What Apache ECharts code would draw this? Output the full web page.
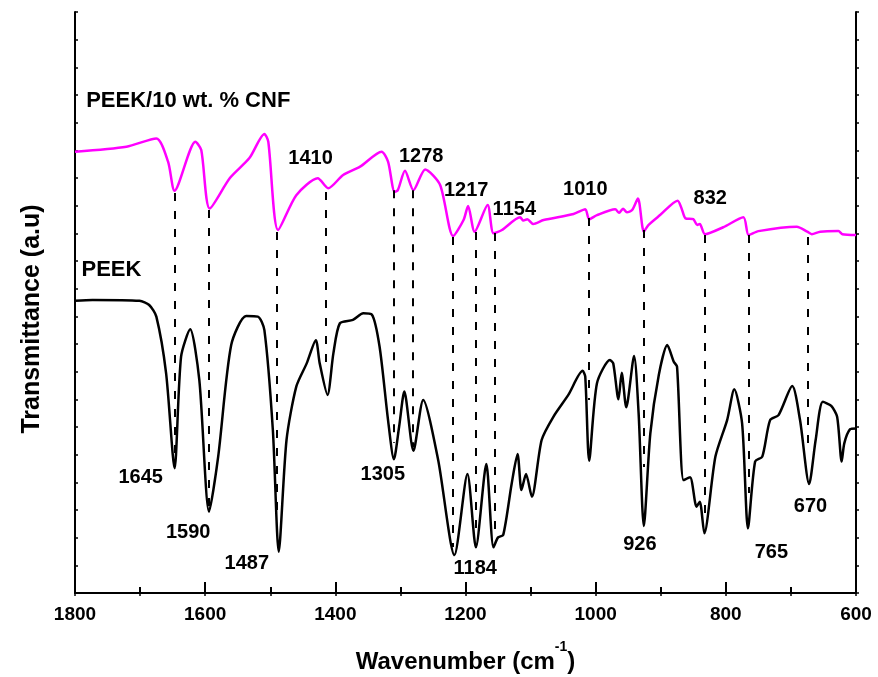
<!DOCTYPE html>
<html>
<head>
<meta charset="utf-8">
<title>FTIR PEEK</title>
<script src="https://cdn.jsdelivr.net/npm/echarts@6/dist/echarts.min.js"></script>
<style>
  html, body { margin: 0; padding: 0; background: #fff; }
  #chart { width: 878px; height: 677px; }
</style>
</head>
<body>
<div id="chart"></div>
<script>
// wavenumber (cm-1) / transmittance (a.u., offset)
var cnfWave = [1800, 1721, 1675, 1657, 1647, 1615, 1606, 1593, 1562, 1532, 1509, 1503, 1488, 1460, 1427, 1411,
    1388, 1362, 1329, 1319, 1309, 1304, 1293, 1280, 1262, 1239, 1219, 1203, 1196, 1186, 1166, 1157, 1144,
    1116, 1111, 1105, 1096, 1080, 1034, 1016, 1010, 998, 970, 964, 958, 952, 944, 935, 926, 919, 901, 874,
    868, 862, 850, 844, 840, 832, 804, 773, 765, 750, 691, 675, 668, 655, 627, 621, 600];
var cnfT = [15.95, 16.13, 16.43, 15.59, 14.54, 16.31, 16.01, 13.90, 15.00, 15.72, 16.59, 16.31, 13.12, 14.38, 14.99, 14.63,
    15.11, 15.41, 15.95, 15.59, 14.50, 14.56, 15.26, 14.56, 15.31, 14.75, 12.90, 13.48, 13.99, 13.06, 14.02, 13.00, 13.12,
    13.58, 13.46, 13.51, 13.34, 13.48, 13.70, 13.87, 13.51, 13.66, 13.87, 13.74, 13.89, 13.76, 13.84, 14.26, 13.06, 13.30, 13.66, 14.18,
    13.90, 13.54, 13.51, 13.30, 13.34, 12.97, 13.22, 13.58, 12.94, 13.08, 13.24, 13.06, 12.97, 13.06, 13.08, 12.97, 12.94];

var peekWave = [1800, 1773, 1701, 1686, 1675, 1660, 1647, 1637, 1623, 1609, 1594, 1580, 1560, 1537, 1519, 1509,
    1496, 1487, 1475, 1460, 1444, 1430, 1424, 1412, 1403, 1393, 1373, 1357, 1344, 1332, 1319, 1310, 1302, 1294,
    1280, 1265, 1242, 1217, 1197, 1184, 1168, 1157, 1150, 1142, 1129, 1120, 1114, 1107, 1098, 1083, 1065, 1042,
    1020, 1016, 1010, 998, 978, 973, 965, 960, 953, 941, 934, 926, 916, 903, 890, 880, 875, 865, 855, 845, 840,
    833, 816, 798, 787, 775, 766, 755, 744, 732, 719, 698, 686, 672, 662, 651, 638, 629, 622, 618, 609, 600];
var peekT = [10.56, 10.59, 10.56, 10.41, 9.99, 7.94, 4.51, 8.54, 9.53, 7.70, 2.94, 4.93, 8.96, 10.01, 9.99, 9.50,
    5.89, 1.49, 5.53, 7.46, 8.30, 9.14, 8.30, 7.16, 8.66, 9.75, 9.87, 10.11, 10.07, 8.90, 6.25, 4.83, 6.01, 7.28,
    5.14, 6.98, 4.81, 1.37, 4.30, 1.65, 4.66, 1.65, 2.01, 2.10, 3.96, 5.02, 3.72, 4.30, 3.48, 5.53, 6.37, 7.16,
    8.03, 7.82, 4.78, 7.58, 8.42, 8.30, 7.00, 7.96, 6.71, 8.57, 6.49, 2.42, 5.77, 7.88, 8.96, 8.36, 8.18, 4.08, 4.18, 3.12, 3.30,
    2.16, 4.93, 6.25, 7.36, 6.13, 2.34, 4.75, 4.93, 6.25, 6.43, 7.48, 6.25, 3.94, 5.53, 6.91, 6.76, 6.37, 4.75, 5.41, 5.92, 5.95];

// dashed guide lines between the two spectra
var dashWave = [1647, 1594, 1490, 1415, 1310, 1281, 1219, 1184, 1155, 1010, 926, 832, 765, 674];
var dashTop = [14.46, 13.84, 13.05, 14.49, 14.56, 14.56, 12.87, 13.05, 13.01, 13.55, 13.12, 12.94, 12.94, 12.87];
var dashBottom = [4.81, 3.11, 2.64, 8.06, 5.42, 5.28, 1.66, 2.17, 2.28, 6.98, 4.55, 2.89, 3.61, 5.06];

// peak annotations
var peakText = ['1645', '1590', '1487', '1305', '1184', '926', '765', '670',
    '1410', '1278', '1217', '1154', '1010', '832'];
var peakAtWave = [1699, 1626, 1536, 1327, 1185, 932, 730, 670,
    1438, 1268, 1199, 1125, 1016, 824];
var peakAtT = [4.19, 2.20, 1.08, 4.30, 0.87, 1.77, 1.46, 3.14,
    15.69, 15.79, 14.56, 13.88, 14.60, 14.26];

var seriesText = ['PEEK/10 wt. % CNF', 'PEEK'];
var seriesAtWave = [1626, 1744];
var seriesAtT = [17.80, 11.66];

document.addEventListener('DOMContentLoaded', function() {
    var FONT = '"Liberation Sans", Arial, sans-serif';
    var chart = echarts.init(document.getElementById('chart'));

    function pairs(xs, ys) {
        return xs.map(function(x, i) { return [x, ys[i]]; });
    }

    var dashLines = dashWave.map(function(w, i) {
        return [{ coord: [w, dashTop[i]] }, { coord: [w, dashBottom[i]] }];
    });

    // text-only scatter (invisible symbol), label centred on the point
    function textSeries(name, texts, xs, ys, size) {
        return {
            name: name,
            type: 'scatter',
            symbol: 'circle',
            symbolSize: 1,
            silent: true,
            itemStyle: { color: 'rgba(0,0,0,0)', opacity: 1 },
            data: texts.map(function(t, i) {
                return { name: t, value: [xs[i], ys[i]] };
            }),
            label: {
                show: true,
                position: 'inside',
                formatter: '{b}',
                color: '#000',
                opacity: 1,
                fontFamily: FONT,
                fontWeight: 'bold',
                fontSize: size
            },
            z: 5
        };
    }

    var option = {
        animation: false,
        backgroundColor: '#fff',
        grid: { left: 75, right: 22, top: 12, bottom: 84, containLabel: false, outerBoundsMode: 'none' },
        xAxis: [{
            type: 'value',
            inverse: true,
            min: 600,
            max: 1800,
            interval: 200,
            position: 'bottom',
            name: '{t|Wavenumber (cm}{sup|-1}{t|)}',
            nameLocation: 'middle',
            nameGap: 47,
            nameTextStyle: {
                color: '#000', fontFamily: FONT, fontWeight: 'bold', fontSize: 24,
                rich: {
                    t: { fontFamily: FONT, fontWeight: 'bold', fontSize: 24, lineHeight: 34, verticalAlign: 'bottom', color: '#000' },
                    sup: { fontFamily: FONT, fontWeight: 'bold', fontSize: 14, lineHeight: 14, verticalAlign: 'top', color: '#000' }
                }
            },
            axisLine: { show: true, lineStyle: { color: '#000', width: 2 } },
            axisTick: { show: true, inside: true, length: 11, lineStyle: { color: '#000', width: 2 } },
            minorTick: { show: true, splitNumber: 2, length: 6, lineStyle: { color: '#000', width: 2 } },
            axisLabel: {
                color: '#000', fontFamily: FONT, fontWeight: 'bold', fontSize: 19, margin: 12,
                showMinLabel: true, showMaxLabel: true,
                formatter: function(v) { return String(v); }
            },
            splitLine: { show: false }
        }, {
            type: 'value',
            inverse: true,
            min: 600,
            max: 1800,
            interval: 100,
            position: 'top',
            axisLine: { show: true, lineStyle: { color: '#000', width: 2 } },
            axisTick: { show: true, inside: true, length: 3, lineStyle: { color: '#000', width: 1.5 } },
            axisLabel: { show: false },
            splitLine: { show: false }
        }],
        yAxis: [{
            type: 'value',
            min: 0,
            max: 21,
            interval: 1,
            position: 'left',
            axisLine: { show: true, lineStyle: { color: '#000', width: 2 } },
            axisTick: { show: true, inside: true, length: 3, lineStyle: { color: '#000', width: 1.5 } },
            axisLabel: { show: false },
            splitLine: { show: false }
        }, {
            type: 'value',
            min: 0,
            max: 21,
            interval: 1,
            position: 'right',
            axisLine: { show: true, lineStyle: { color: '#000', width: 2 } },
            axisTick: { show: true, inside: false, length: 3, lineStyle: { color: '#000', width: 1.5 } },
            axisLabel: { show: false },
            splitLine: { show: false }
        }],
        graphic: [{
            type: 'text',
            x: 32,
            y: 319,
            rotation: Math.PI / 2,
            style: {
                text: 'Transmittance (a.u)',
                fill: '#000',
                font: 'bold 25px ' + FONT,
                align: 'center',
                verticalAlign: 'middle'
            }
        }],
        series: [{
            name: 'PEEK',
            type: 'line',
            data: pairs(peekWave, peekT),
            showSymbol: false,
            smooth: 0.25,
            lineStyle: { color: '#000', width: 2.5 },
            z: 3,
            markLine: {
                silent: true,
                symbol: ['none', 'none'],
                label: { show: false },
                lineStyle: { color: '#000', width: 2, type: [8, 10] },
                data: dashLines
            }
        }, {
            name: 'PEEK/10 wt. % CNF',
            type: 'line',
            data: pairs(cnfWave, cnfT),
            showSymbol: false,
            smooth: 0.25,
            lineStyle: { color: '#ff00ff', width: 2.5 },
            z: 4
        },
        textSeries('peaks', peakText, peakAtWave, peakAtT, 20),
        textSeries('names', seriesText, seriesAtWave, seriesAtT, 22)]
    };

    chart.setOption(option);
});
</script>
</body>
</html>
